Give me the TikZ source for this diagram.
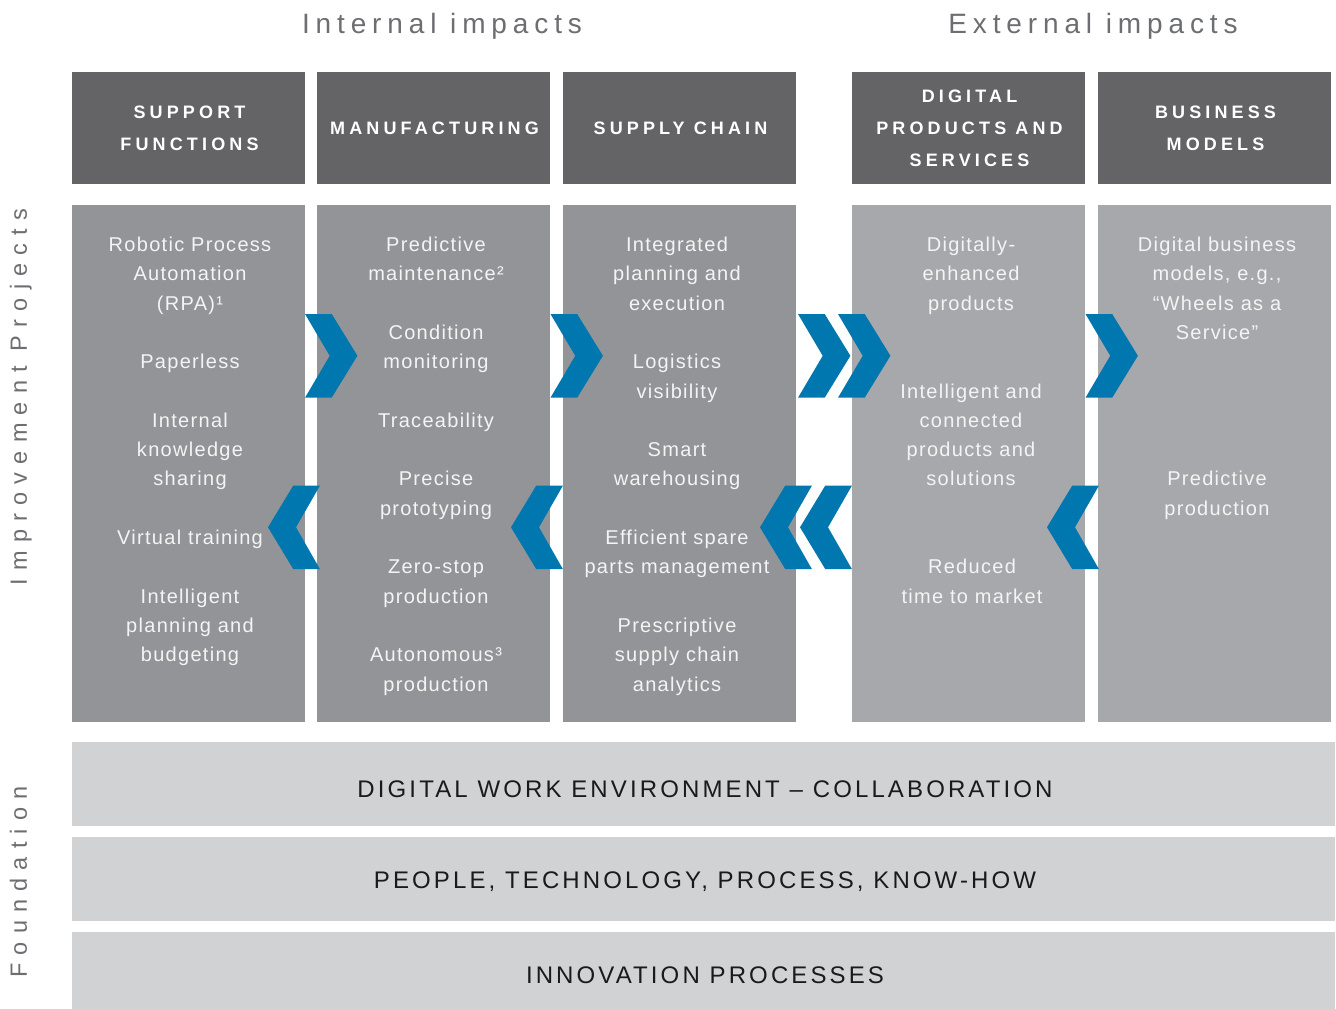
\documentclass[tikz,border=0pt]{standalone}
\usepackage{fontspec}
\setmainfont{Liberation Sans}
\newfontfamily\bodyf[LetterSpace=6.5]{Liberation Sans}
\newfontfamily\headf[LetterSpace=23]{Liberation Sans}
\newfontfamily\titlef[LetterSpace=21]{Liberation Sans}
\newfontfamily\sidef[LetterSpace=35]{Liberation Sans}
\newfontfamily\foundf[LetterSpace=13]{Liberation Sans}
\definecolor{headgray}{HTML}{646466}
\definecolor{intgray}{HTML}{939497}
\definecolor{extgray}{HTML}{A7A8AB}
\definecolor{foundgray}{HTML}{D1D2D4}
\definecolor{chevblue}{HTML}{0077AE}
\definecolor{titlegray}{HTML}{6D6E71}
\definecolor{bodytext}{HTML}{F4F4F4}
\definecolor{foundtext}{HTML}{1A1A1A}
\begin{document}
\begin{tikzpicture}[x=1pt,y=-1pt,
  headbox/.style={fill=headgray, minimum width=233pt, minimum height=112pt, inner sep=0pt, align=center, text=white, font=\headf\bfseries\fontsize{18}{32}\selectfont},
  intcol/.style={fill=intgray, minimum width=233pt, minimum height=517pt, inner sep=0pt},
  extcol/.style={fill=extgray, minimum width=233pt, minimum height=517pt, inner sep=0pt},
  item/.style={anchor=base, align=center, inner sep=0pt, text=bodytext, font=\bodyf\fontsize{20}{29.3}\selectfont},
  band/.style={fill=foundgray, minimum width=1263pt, inner sep=0pt},
  bandtext/.style={anchor=base, inner sep=0pt, text=foundtext, font=\foundf\fontsize{24}{28}\selectfont},
  titletext/.style={anchor=base, inner sep=0pt, text=titlegray, font=\titlef\fontsize{28}{32}\selectfont},
  sidetext/.style={anchor=base, rotate=90, inner sep=0pt, text=titlegray, font=\sidef\fontsize{23.5}{28}\selectfont},
  chevr/.pic={\fill[chevblue] (0,0) -- (26.7,0) -- (52.4,41.8) -- (26.7,83.7) -- (0,83.7) -- (24.7,41.8) -- cycle;},
  chevl/.pic={\fill[chevblue] (0,0) -- (-26.7,0) -- (-52,41.8) -- (-26.7,83.7) -- (0,83.7) -- (-24,41.8) -- cycle;}
]
\useasboundingbox (0,0) rectangle (1336,1009);
\fill[white] (0,0) rectangle (1336,1009);

% titles
\node[titletext] (tint) at (442,34) {Internal impacts};
\node[titletext] (text) at (1093,34) {External impacts};
\node[sidetext] (sproj) at (27,397) {Improvement Projects};
\node[sidetext] (sfound) at (27,882) {Foundation};

% headers (text nudged right to offset trailing letter space)
\node[headbox] (h1) at (188.5,128) {\hspace*{2pt}SUPPORT\\\hspace*{2pt}FUNCTIONS};
\node[headbox] (h2) at (433.5,128) {\hspace*{2pt}MANUFACTURING};
\node[headbox] (h3) at (679.5,128) {\hspace*{2pt}SUPPLY CHAIN};
\node[headbox] (h4) at (968.5,128) {\hspace*{2pt}DIGITAL\\\hspace*{2pt}PRODUCTS AND\\\hspace*{2pt}SERVICES};
\node[headbox] (h5) at (1214.5,128) {\hspace*{2pt}BUSINESS\\\hspace*{2pt}MODELS};

% columns
\node[intcol] (c1) at (188.5,463.5) {};
\node[intcol] (c2) at (433.5,463.5) {};
\node[intcol] (c3) at (679.5,463.5) {};
\node[extcol] (c4) at (968.5,463.5) {};
\node[extcol] (c5) at (1214.5,463.5) {};

% chevrons
\pic at (305,314) {chevr};
\pic at (550.5,314) {chevr};
\pic at (798,314) {chevr};
\pic at (838,314) {chevr};
\pic at (1085.5,314) {chevr};
\pic at (320,485.5) {chevl};
\pic at (563,485.5) {chevl};
\pic at (812,485.5) {chevl};
\pic at (852,485.5) {chevl};
\pic at (1099,485.5) {chevl};

% column 1 (base = last line)
\node[item] (a1) at (190,310.1) {Robotic Process\\Automation\\(RPA)¹};
\node[item] (a2) at (190,368.7) {Paperless};
\node[item] (a3) at (190,485.9) {Internal\\knowledge\\sharing};
\node[item] (a4) at (190,544.5) {Virtual training};
\node[item] (a5) at (190,661.7) {Intelligent\\planning and\\budgeting};
% column 2
\node[item] (b1) at (436,280.8) {Predictive\\maintenance²};
\node[item] (b2) at (436,368.7) {Condition\\monitoring};
\node[item] (b3) at (436,427.3) {Traceability};
\node[item] (b4) at (436,515.2) {Precise\\prototyping};
\node[item] (b5) at (436,603.1) {Zero-stop\\production};
\node[item] (b6) at (436,691) {Autonomous³\\production};
% column 3
\node[item] (d1) at (677,310.1) {Integrated\\planning and\\execution};
\node[item] (d2) at (677,398) {Logistics\\visibility};
\node[item] (d3) at (677,485.9) {Smart\\warehousing};
\node[item] (d4) at (677,573.8) {Efficient spare\\parts management};
\node[item] (d5) at (677,691) {Prescriptive\\supply chain\\analytics};
% column 4
\node[item] (e1) at (971,310.1) {Digitally-\\enhanced\\products};
\node[item] (e2) at (971,485.9) {Intelligent and\\connected\\products and\\solutions};
\node[item] (e3) at (972,603.1) {Reduced\\time to market};
% column 5
\node[item] (f1) at (1217,339.4) {Digital business\\models, e.g.,\\“Wheels as a\\Service”};
\node[item] (f2) at (1217,515.2) {Predictive\\production};

% foundation
\node[band, minimum height=84pt] (g1) at (703.5,784) {};
\node[band, minimum height=84pt] (g2) at (703.5,879) {};
\node[band, minimum height=77pt] (g3) at (703.5,970.5) {};
\node[bandtext] (t1) at (705,797.7) {DIGITAL WORK ENVIRONMENT – COLLABORATION};
\node[bandtext] (t2) at (705,888.7) {PEOPLE, TECHNOLOGY, PROCESS, KNOW-HOW};
\node[bandtext] (t3) at (705,983.7) {INNOVATION PROCESSES};
\end{tikzpicture}
\end{document}
